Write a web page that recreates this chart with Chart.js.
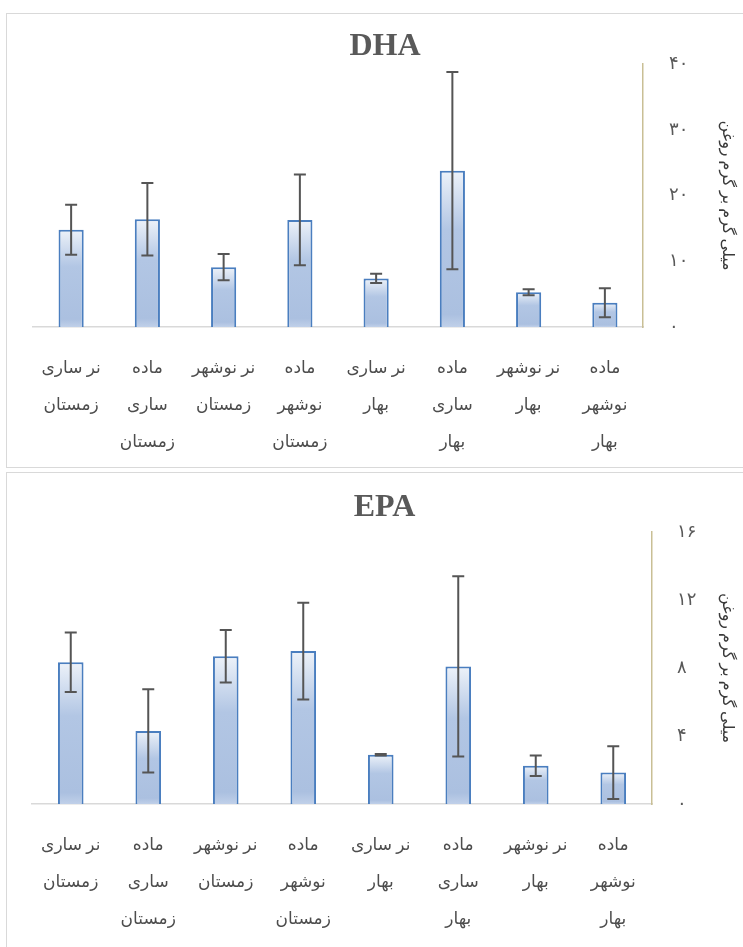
<!DOCTYPE html>
<html><head><meta charset="utf-8">
<script src="https://cdn.jsdelivr.net/npm/chart.js@4"></script>
<style>
body{margin:0;background:#fff;width:743px;height:947px;overflow:hidden;position:relative}
.panel{position:absolute;left:6px;border:1.5px solid #d9d9d9;background:#fff}
#p1{top:13px;width:760px;height:453px}
#p2{top:472px;width:760px;height:500px}
canvas{position:absolute;left:0}
#c1{top:0}
#c2{top:470px}
</style></head>
<body>
<div class="panel" id="p1"></div>
<div class="panel" id="p2"></div>
<canvas id="c1" width="743" height="470"></canvas>
<canvas id="c2" width="743" height="477"></canvas>
<script>
const categories = [
  ['نر ساری', 'زمستان'],
  ['ماده', 'ساری', 'زمستان'],
  ['نر نوشهر', 'زمستان'],
  ['ماده', 'نوشهر', 'زمستان'],
  ['نر ساری', 'بهار'],
  ['ماده', 'ساری', 'بهار'],
  ['نر نوشهر', 'بهار'],
  ['ماده', 'نوشهر', 'بهار']
];
const dhaValues = [14.8, 16.4, 9.1, 16.3, 7.4, 23.8, 5.3, 3.7];
const dhaErrors = [3.8, 5.5, 2.0, 6.9, 0.7, 15.0, 0.45, 2.2];
const epaValues = [8.35, 4.3, 8.7, 9.0, 2.9, 8.1, 2.25, 1.85];
const epaErrors = [1.75, 2.45, 1.55, 2.85, 0.05, 5.3, 0.6, 1.55];
const dhaTickLabels = ['۰', '۱۰', '۲۰', '۳۰', '۴۰'];
const epaTickLabels = ['۰', '۴', '۸', '۱۲', '۱۶'];
const yTitle = 'میلی گرم بر گرم روغن';

const GRAY = '#595959';
const LABEL_FONT = "'Liberation Serif', 'DejaVu Sans', serif";

function barGradient(ctx) {
  const chart = ctx.chart;
  if (ctx.type !== 'data' || !chart.chartArea) return '#b4c6e3';
  const y = chart.scales.y;
  const top = y.getPixelForValue(ctx.raw);
  const bot = y.getPixelForValue(0);
  if (!isFinite(top) || bot - top < 1) return '#b4c6e3';
  const g = chart.ctx.createLinearGradient(0, top, 0, bot);
  g.addColorStop(0, '#edf2f9');
  g.addColorStop(0.38, '#b2c6e4');
  g.addColorStop(0.92, '#abc0e0');
  g.addColorStop(1, '#c0d0e9');
  return g;
}

const errorBarPlugin = {
  id: 'errorBars',
  afterDatasetsDraw(chart, args, opts) {
    const errs = opts.errors;
    if (!errs) return;
    const meta = chart.getDatasetMeta(0);
    const y = chart.scales.y;
    const c = chart.ctx;
    const vals = chart.data.datasets[0].data;
    c.save();
    c.strokeStyle = '#555555';
    c.lineWidth = 2;
    meta.data.forEach((el, i) => {
      const x = el.x;
      const yt = y.getPixelForValue(vals[i] + errs[i]);
      const yb = y.getPixelForValue(vals[i] - errs[i]);
      const half = 6;
      c.beginPath();
      c.moveTo(x, yt); c.lineTo(x, yb);
      c.moveTo(x - half, yt); c.lineTo(x + half, yt);
      c.moveTo(x - half, yb); c.lineTo(x + half, yb);
      c.stroke();
    });
    c.restore();
  }
};

function makeChart(id, title, values, errors, maxV, step, tickLabels, cfg) {
  return new Chart(document.getElementById(id), {
    type: 'bar',
    data: {
      labels: categories,
      datasets: [{
        data: values,
        backgroundColor: barGradient,
        borderColor: '#4a7ebf',
        borderWidth: 2,
        borderSkipped: 'bottom',
        barPercentage: 0.33,
        categoryPercentage: 1
      }]
    },
    plugins: [errorBarPlugin],
    options: {
      responsive: false,
      animation: false,
      devicePixelRatio: 1,
      layout: { padding: { left: cfg.left, right: cfg.right, top: 0, bottom: 0 } },
      plugins: {
        legend: { display: false },
        tooltip: { enabled: false },
        errorBars: { errors: errors },
        title: {
          display: true,
          text: title,
          color: GRAY,
          font: { family: "'Liberation Serif', serif", size: 32, weight: 'bold', lineHeight: 1.1 },
          padding: { top: cfg.titleTop, bottom: cfg.titleBottom }
        }
      },
      scales: {
        x: {
          grid: { display: false, drawTicks: false },
          border: { display: true, color: '#d9d9d9', width: 1.5 },
          ticks: {
            color: '#4d4d4d',
            font: { family: LABEL_FONT, size: 17, lineHeight: 2.17 },
            padding: cfg.xPad,
            maxRotation: 0,
            autoSkip: false
          },
          afterFit: s => { s.height = cfg.xHeight; }
        },
        y: {
          position: 'right',
          min: 0,
          max: maxV,
          grid: { display: false, drawTicks: false },
          border: { display: true, color: '#c9bf95', width: 1.5 },
          ticks: {
            stepSize: step,
            color: GRAY,
            padding: cfg.yPad,
            font: { family: LABEL_FONT, size: 18 },
            callback: (v, i) => tickLabels[i]
          },
          title: {
            display: true,
            text: yTitle,
            color: '#3a3a3a',
            font: { family: LABEL_FONT, size: 16, lineHeight: 1.2 },
            padding: 0
          },
          afterFit: s => { s.width = cfg.yWidth; }
        }
      }
    }
  });
}

makeChart('c1', 'DHA', dhaValues, dhaErrors, 40, 10, dhaTickLabels,
  { left: 33, right: 6, titleTop: 29, titleBottom: 0, xPad: 23, xHeight: 143, yPad: 26, yWidth: 94 });
makeChart('c2', 'EPA', epaValues, epaErrors, 16, 4, epaTickLabels,
  { left: 32, right: 6, titleTop: 20, titleBottom: 7, xPad: 23, xHeight: 143, yPad: 25, yWidth: 85 });
</script>
</body></html>
